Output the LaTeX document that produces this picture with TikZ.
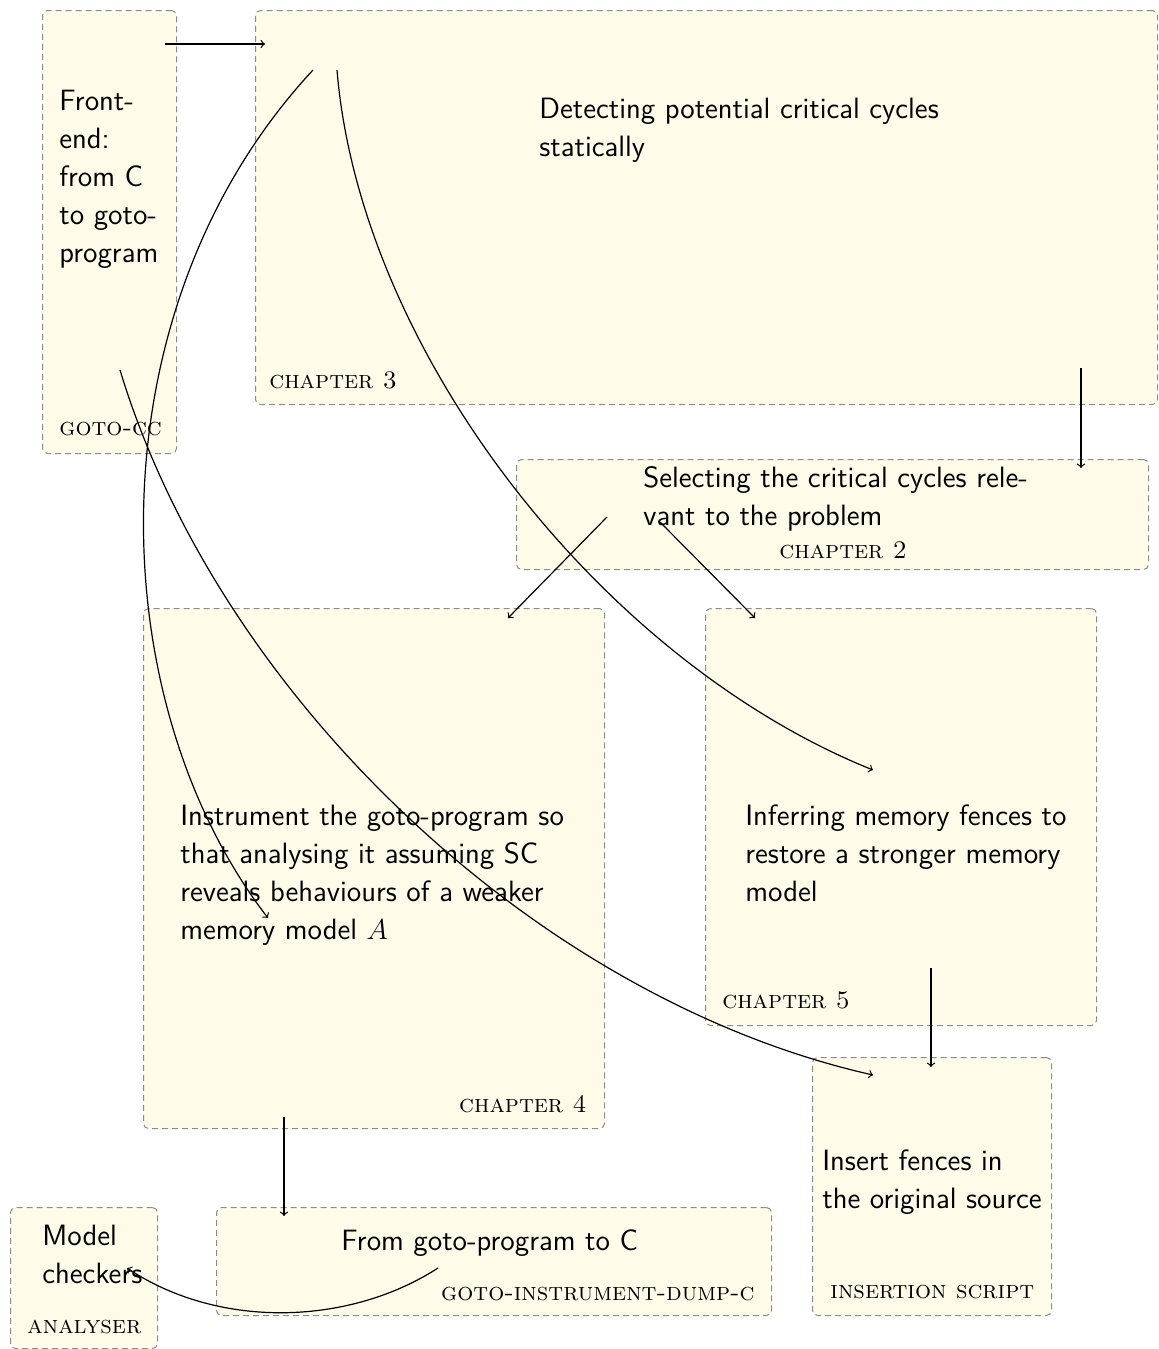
\documentclass[tikz,border=0pt]{standalone}
\definecolor{boxfill}{HTML}{FEFBE8}
\definecolor{boxline}{HTML}{8C8C8C}
\tikzset{
  box/.style={draw=boxline, fill=boxfill, dash pattern=on 3pt off 2pt,
    line width=0.5pt, rounded corners=2.5pt, anchor=north west, inner sep=0pt},
  txt/.style={anchor=base west, inner sep=0pt,
    font=\fontsize{14.7}{19}\selectfont\sffamily},
  lbl/.style={anchor=base west, inner sep=0pt,
    font=\fontsize{12.6}{14}\selectfont\scshape},
  flow/.style={->, line width=0.6pt},
}
\newcommand{\stack}[1]{\parbox[t]{300pt}{\raggedright #1}}
\begin{document}
\begin{tikzpicture}[x=0.5pt, y=-0.5pt]
\useasboundingbox (0,0) rectangle (1158,1349);

% tool boxes
\node[box, minimum width=67pt,    minimum height=221.5pt] (gotocc)   at (42,10)    {};
\node[box, minimum width=451pt,   minimum height=197pt]   (chthree)  at (255,10)   {};
\node[box, minimum width=316pt,   minimum height=55pt]    (chtwo)    at (516,459)  {};
\node[box, minimum width=230.5pt, minimum height=260pt]   (chfour)   at (143,608)  {};
\node[box, minimum width=195.5pt, minimum height=208.5pt] (chfive)   at (705,608)  {};
\node[box, minimum width=119.5pt, minimum height=129pt]   (insert)   at (812,1057) {};
\node[box, minimum width=277.5pt, minimum height=54pt]    (dumpc)    at (216,1207) {};
\node[box, minimum width=73.5pt,  minimum height=70.5pt]  (analyser) at (10,1207)  {};

% descriptions
\node[txt] (tfront)  at (59,110)   {\stack{Front-\\end:\\from C\\to goto-\\program}};
\node[txt] (tdetect) at (539,118)  {\stack{Detecting potential critical cycles\\statically}};
\node[txt] (tselect) at (643,487)  {\stack{Selecting the critical cycles rele-\\vant to the problem}};
\node[txt] (tinstr)  at (180,825)  {\stack{Instrument the goto-program so\\that analysing it assuming SC\\reveals behaviours of a weaker\\memory model $A$}};
\node[txt] (tinfer)  at (745,825)  {\stack{Inferring memory fences to\\restore a stronger memory\\model}};
\node[txt] (tinsert) at (822,1170) {\stack{Insert fences in\\the original source}};
\node[txt] (tdumpc)  at (341,1250) {From goto-program to C};
\node[txt] (tmodel)  at (42,1245)  {\stack{Model\\checkers}};

% tool labels
\node[lbl] (lgotocc) at (59,435)   {goto-cc};
\node[lbl] (lthree)  at (269,388)  {chapter 3};
\node[lbl] (ltwo)    at (779,558)  {chapter 2};
\node[lbl, anchor=base east] (lfour) at (587,1112) {chapter 4};
\node[lbl] (lfive)   at (722,1008) {chapter 5};
\node[lbl] (lins)    at (830,1298) {insertion script};
\node[lbl, anchor=base east] (ldumpc) at (755,1300) {goto-instrument-dump-c};
\node[lbl] (lanalyser) at (27,1333) {analyser};

% connector end points
\coordinate (fe-out)   at (165,44);
\coordinate (c3-in)    at (265,44);
\coordinate (c3-outa)  at (313,70);
\coordinate (c3-outb)  at (337,70);
\coordinate (c3-outc)  at (1081,368);
\coordinate (fe-outb)  at (120,370);
\coordinate (c2-in)    at (1081,468);
\coordinate (c2-outa)  at (607,517);
\coordinate (c2-outb)  at (660,522);
\coordinate (c4-ina)   at (508,618);
\coordinate (c5-ina)   at (755,618);
\coordinate (c5-inb)   at (873,770);
\coordinate (c4-inb)   at (268,918);
\coordinate (c5-out)   at (931,968);
\coordinate (ins-ina)  at (931,1067);
\coordinate (ins-inb)  at (873,1075);
\coordinate (c4-out)   at (284,1117);
\coordinate (dc-in)    at (284,1216);
\coordinate (dc-out)   at (438,1268);
\coordinate (an-in)    at (127,1268);

% connectors
\draw[flow] (fe-out) -- (c3-in);
\draw[flow] (c3-outa) .. controls (90,310) and (100,700) .. (c4-inb);
\draw[flow] (c3-outb) .. controls (360,350) and (600,660) .. (c5-inb);
\draw[flow] (fe-outb) .. controls (220,700) and (540,1000) .. (ins-inb);
\draw[flow] (c3-outc) -- (c2-in);
\draw[flow] (c2-outa) -- (c4-ina);
\draw[flow] (c2-outb) -- (c5-ina);
\draw[flow] (c5-out) -- (ins-ina);
\draw[flow] (c4-out) -- (dc-in);
\draw[flow] (dc-out) .. controls (350,1325) and (220,1330) .. (an-in);
\end{tikzpicture}
\end{document}
